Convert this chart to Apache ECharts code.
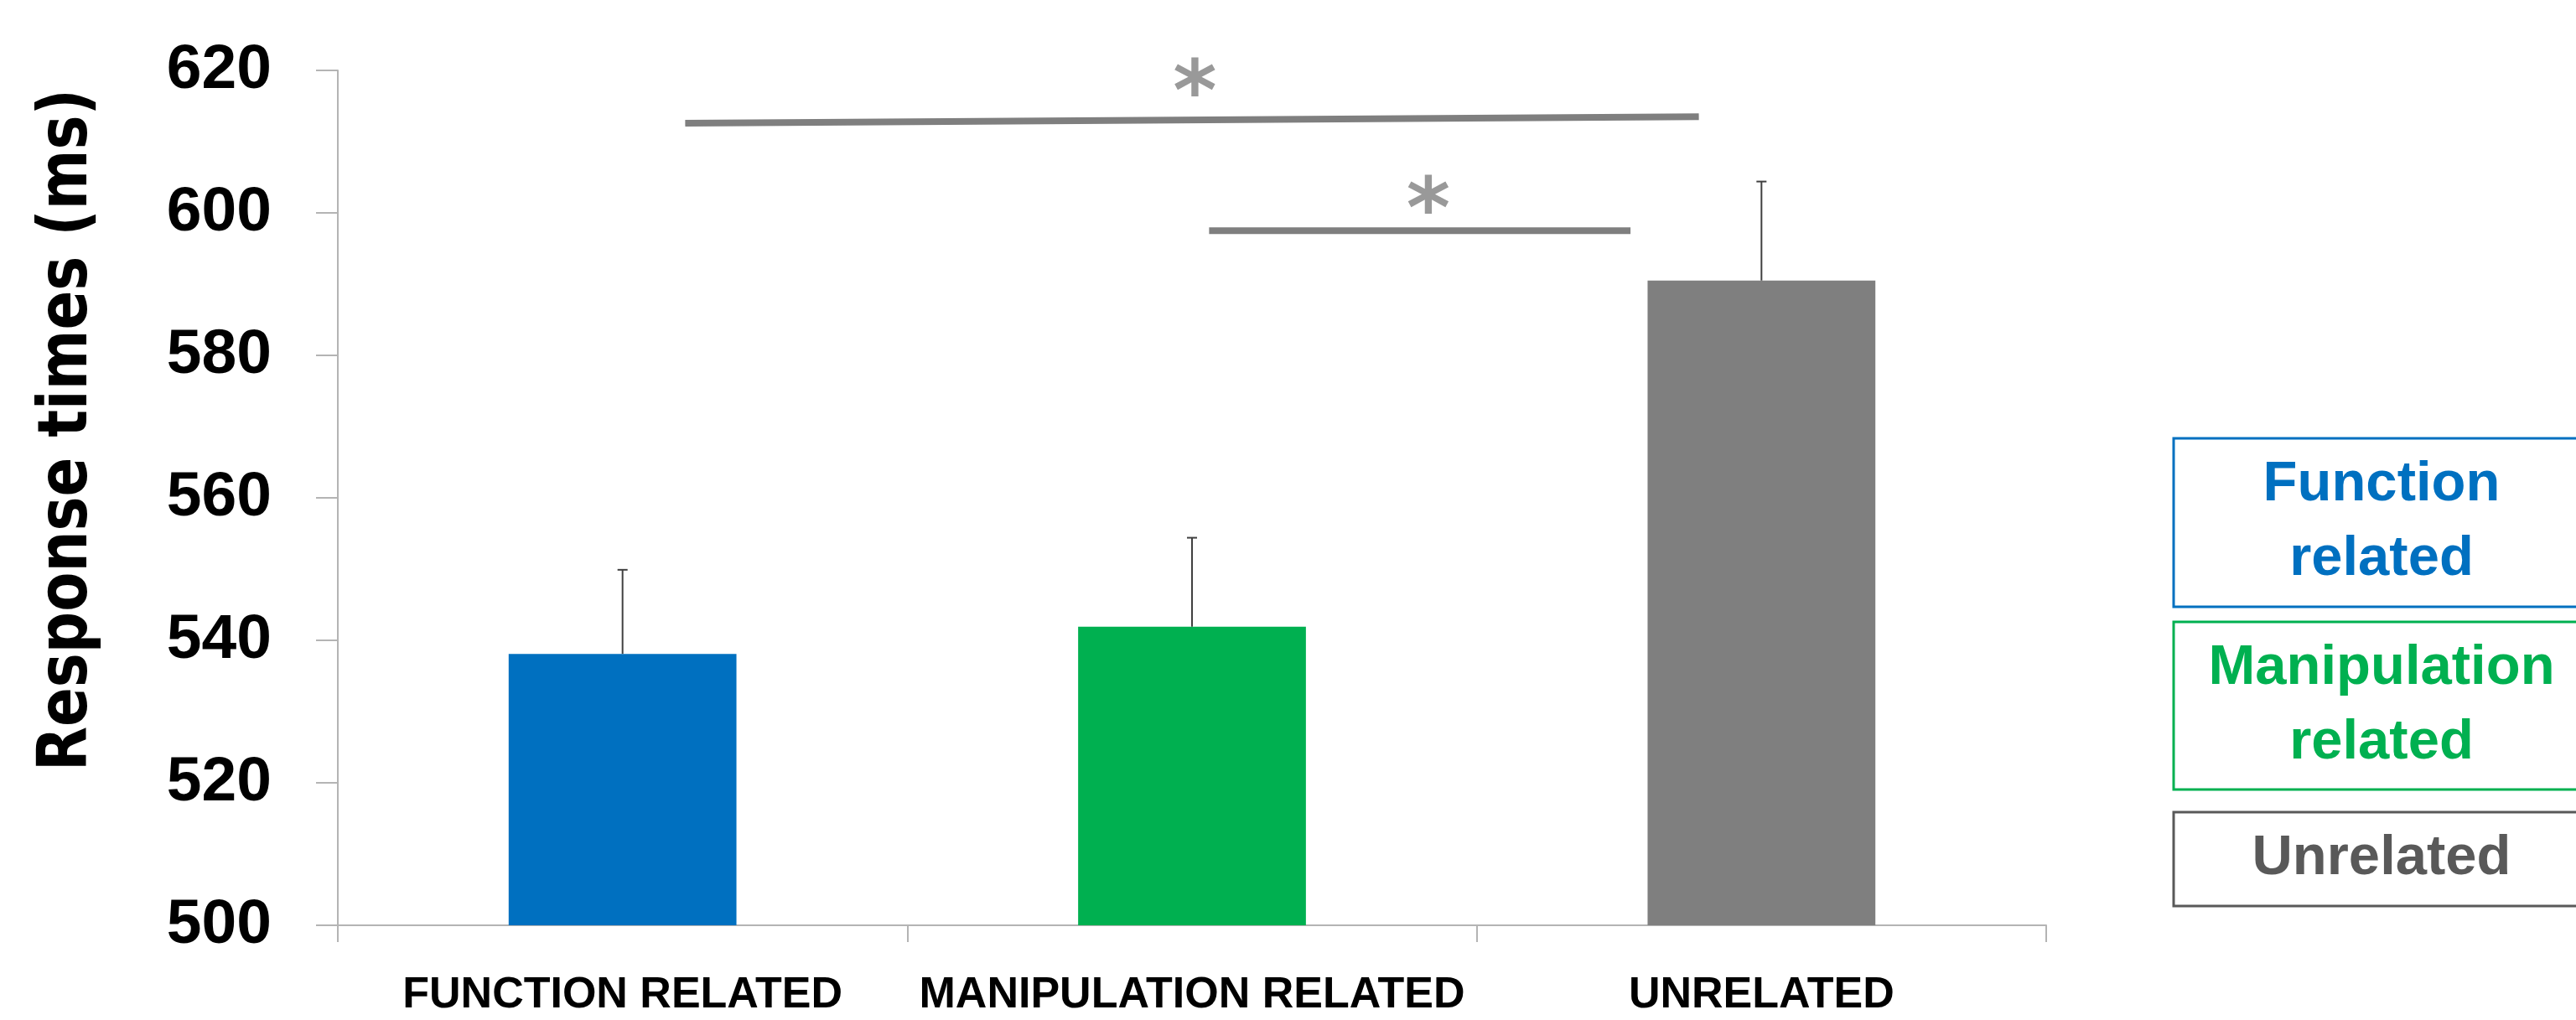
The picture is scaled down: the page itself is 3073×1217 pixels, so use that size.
<!DOCTYPE html>
<html>
<head>
<meta charset="utf-8">
<script src="https://cdn.jsdelivr.net/npm/echarts@6/dist/echarts.min.js"></script>
<style>
html,body{margin:0;padding:0;background:#fff;}
#chart{width:3073px;height:1217px;}
</style>
</head>
<body>
<div id="chart"></div>
<script>
// ---- data ----
const categories = ['FUNCTION RELATED', 'MANIPULATION RELATED', 'UNRELATED'];
const meanRT = [538.1, 541.9, 590.5];
const errorTop = [549.9, 554.4, 604.4];
const yMin = 500, yMax = 620, yStep = 20;
// significance brackets: [x, y] endpoints on a 0..2 category-centre scale
const sigLineLong = [[0.11, 612.6], [1.89, 613.5]];
const sigLineShort = [[1.03, 597.5], [1.77, 597.5]];
const sigStars = [[1.005, 618.7], [1.415, 602.2]];
const legendLabels = ['Function\nrelated', 'Manipulation\nrelated', 'Unrelated'];
const yTitle = 'Response times (ms)';

// ---- styles ----
const barColors = ['#0070C0', '#00B050', '#7F7F7F'];
const legendText = ['#0070C0', '#00B050', '#595959'];
const legendBorder = ['#0070C0', '#00B050', '#595959'];
const axisGray = '#B4B4B4';
const sigGray = '#7F7F7F';

const chart = echarts.init(document.getElementById('chart'), null, {renderer: 'canvas'});

const legendBoxes = [
  {y: 523, h: 201},
  {y: 742, h: 200},
  {y: 969, h: 112}
];
const graphics = [];
legendBoxes.forEach((b, i) => {
  graphics.push({
    type: 'rect', shape: {x: 2593, y: b.y, width: 496, height: b.h},
    style: {fill: '#fff', stroke: legendBorder[i], lineWidth: 3}, z: 10
  });
  graphics.push({
    type: 'text', x: 2841, y: b.y + b.h / 2, z: 11,
    style: {text: legendLabels[i], fill: legendText[i], fontFamily: 'Liberation Sans',
      fontWeight: 'bold', fontSize: 67, lineHeight: 89, align: 'center', verticalAlign: 'middle'}
  });
});
graphics.push({
  type: 'text', x: 82, y: 513, rotation: Math.PI / 2, scaleX: 0.84, z: 11,
  style: {text: yTitle, fill: '#000', fontFamily: 'DejaVu Sans', fontWeight: 'bold',
    fontSize: 82, align: 'center', verticalAlign: 'middle'}
});

const option = {
  animation: false,
  backgroundColor: '#fff',
  grid: {left: 403, right: 632, top: 84, bottom: 113, containLabel: false},
  xAxis: [
    {
      type: 'category', data: categories, boundaryGap: true,
      axisLine: {lineStyle: {color: axisGray, width: 2}},
      axisTick: {show: true, length: 20, lineStyle: {color: axisGray, width: 2}},
      axisLabel: {interval: 0, hideOverlap: false, margin: 58, color: '#000',
        fontFamily: 'Liberation Sans', fontWeight: 'bold', fontSize: 52},
      splitLine: {show: false}
    },
    {
      type: 'value', min: -0.5, max: 2.5, show: false, splitLine: {show: false}
    }
  ],
  yAxis: {
    type: 'value', min: yMin, max: yMax, interval: yStep,
    axisLine: {show: true, onZero: false, lineStyle: {color: axisGray, width: 2}},
    axisTick: {show: true, length: 26, lineStyle: {color: axisGray, width: 2}},
    axisLabel: {margin: 79, color: '#000', fontFamily: 'Liberation Sans', fontWeight: 'bold', fontSize: 75},
    splitLine: {show: false}
  },
  graphic: graphics,
  series: [
    {
      type: 'bar', barWidth: '40%',
      data: meanRT.map((v, i) => ({value: v, itemStyle: {color: barColors[i]}})),
      z: 2
    },
    {
      type: 'custom', z: 3,
      data: errorTop.map((e, i) => [i, meanRT[i], e]),
      renderItem: function (params, api) {
        const p0 = api.coord([api.value(0), api.value(1)]);
        const p1 = api.coord([api.value(0), api.value(2)]);
        const style = {stroke: '#404040', lineWidth: 2};
        return {
          type: 'group',
          children: [
            {type: 'line', shape: {x1: p0[0], y1: p0[1], x2: p1[0], y2: p1[1]}, style: style},
            {type: 'line', shape: {x1: p1[0] - 6, y1: p1[1], x2: p1[0] + 6, y2: p1[1]}, style: style}
          ]
        };
      }
    },
    {
      type: 'line', xAxisIndex: 1, data: sigLineLong, symbol: 'none',
      lineStyle: {color: sigGray, width: 8}, z: 4
    },
    {
      type: 'line', xAxisIndex: 1, data: sigLineShort, symbol: 'none',
      lineStyle: {color: sigGray, width: 8}, z: 4
    },
    {
      type: 'scatter', xAxisIndex: 1, data: sigStars, symbolSize: 0, z: 5,
      label: {show: true, position: 'inside', formatter: '*', color: sigGray,
        fontFamily: 'DejaVu Sans', fontWeight: 'bold', fontSize: 100, offset: [0, 22]}
    }
  ]
};
chart.setOption(option);
</script>
</body>
</html>
